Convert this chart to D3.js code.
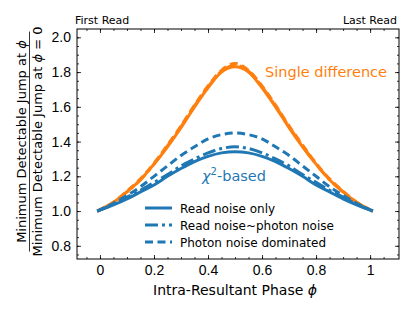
<!DOCTYPE html>
<html>
<head>
<meta charset="utf-8">
<script src="https://cdn.jsdelivr.net/npm/d3@7"></script>
<style>
  body { margin: 0; background: #fff; }
  svg { font-family: "DejaVu Sans", sans-serif; }
</style>
</head>
<body>
<div id="chart"></div>
<script>
// phase values
var phase = [-0.01, 0.05, 0.10, 0.15, 0.20, 0.25, 0.30, 0.35, 0.40, 0.45, 0.50,
             0.55, 0.60, 0.65, 0.70, 0.75, 0.80, 0.85, 0.90, 0.95, 1.01];

// single difference curves (orange)
var sdReadOnly  = [1.00, 1.05, 1.11, 1.18, 1.27, 1.37, 1.48, 1.60, 1.71, 1.80, 1.83,
                   1.80, 1.71, 1.60, 1.48, 1.37, 1.27, 1.18, 1.11, 1.05, 1.00];
var sdMixed     = [1.00, 1.05, 1.11, 1.18, 1.27, 1.375, 1.485, 1.605, 1.715, 1.805, 1.84,
                   1.805, 1.715, 1.605, 1.485, 1.375, 1.27, 1.18, 1.11, 1.05, 1.00];
var sdPhoton    = [1.00, 1.05, 1.115, 1.185, 1.275, 1.38, 1.49, 1.61, 1.72, 1.81, 1.85,
                   1.81, 1.72, 1.61, 1.49, 1.38, 1.275, 1.185, 1.115, 1.05, 1.00];

// chi2-based curves (blue)
var chiReadOnly = [1.00, 1.035, 1.07, 1.11, 1.15, 1.20, 1.245, 1.285, 1.315, 1.335, 1.342,
                   1.335, 1.315, 1.285, 1.245, 1.20, 1.15, 1.11, 1.07, 1.035, 1.00];
var chiMixed    = [1.00, 1.04, 1.08, 1.12, 1.165, 1.21, 1.26, 1.30, 1.335, 1.36, 1.37,
                   1.36, 1.335, 1.30, 1.26, 1.21, 1.165, 1.12, 1.08, 1.04, 1.00];
var chiPhoton   = [1.00, 1.045, 1.09, 1.14, 1.20, 1.26, 1.32, 1.37, 1.415, 1.44, 1.45,
                   1.44, 1.415, 1.37, 1.32, 1.26, 1.20, 1.14, 1.09, 1.045, 1.00];

// ticks
var xTicks = [0, 0.2, 0.4, 0.6, 0.8, 1];
var xTickLabels = ["0", "0.2", "0.4", "0.6", "0.8", "1"];
var yTicks = [0.8, 1.0, 1.2, 1.4, 1.6, 1.8, 2.0];
var legendLabels = ["Read noise only", "Read noise~photon noise", "Photon noise dominated"];

var svgWidth = 415, svgHeight = 311;
var margin = { top: 29, bottom: 52, left: 77, right: 16 };
var width = svgWidth - margin.left - margin.right;
var height = svgHeight - margin.top - margin.bottom;

var orange = "#ff7f0e", blue = "#1f77b4";
var dashStyles = [null, "13,4,3,4", "8,4.5"];

var svg = d3.select("#chart").append("svg")
    .attr("width", svgWidth)
    .attr("height", svgHeight);

var g = svg.append("g")
    .attr("transform", `translate(${margin.left}, ${margin.top})`);

var x = d3.scaleLinear().domain([-0.085, 1.107]).range([0, width]);
var y = d3.scaleLinear().domain([0.724, 2.048]).range([height, 0]);

// minor ticks
var xMinor = d3.range(-0.05, 1.0751, 0.05);
var yMinor = d3.range(0.75, 2.0251, 0.05);

function styleAxis(sel) {
    sel.select(".domain").remove();
    sel.selectAll("line").attr("stroke", "#000").attr("stroke-width", 0.8);
    sel.selectAll("text").attr("fill", "#000");
}

// minor ticks on all sides
g.append("g").attr("transform", `translate(0, ${height})`)
    .call(d3.axisBottom(x).tickValues(xMinor).tickSize(-2).tickFormat("")).call(styleAxis);
g.append("g")
    .call(d3.axisTop(x).tickValues(xMinor).tickSize(-2).tickFormat("")).call(styleAxis);
g.append("g")
    .call(d3.axisLeft(y).tickValues(yMinor).tickSize(-2).tickFormat("")).call(styleAxis);
g.append("g").attr("transform", `translate(${width}, 0)`)
    .call(d3.axisRight(y).tickValues(yMinor).tickSize(-2).tickFormat("")).call(styleAxis);

// major ticks
g.append("g").attr("transform", `translate(0, ${height})`)
    .call(d3.axisBottom(x).tickValues(xTicks).tickSize(-4).tickPadding(6)
        .tickFormat((d, i) => xTickLabels[i]))
    .call(styleAxis)
    .selectAll("text").attr("font-size", "14px");
g.append("g")
    .call(d3.axisTop(x).tickValues(xTicks).tickSize(-4).tickFormat("")).call(styleAxis);
g.append("g")
    .call(d3.axisLeft(y).tickValues(yTicks).tickSize(-4).tickPadding(6)
        .tickFormat(d3.format(".1f")))
    .call(styleAxis)
    .selectAll("text").attr("font-size", "14px");
g.append("g").attr("transform", `translate(${width}, 0)`)
    .call(d3.axisRight(y).tickValues(yTicks).tickSize(-4).tickFormat("")).call(styleAxis);

// lines
var line = d3.line()
    .x((d, i) => x(phase[i]))
    .y(d => y(d))
    .curve(d3.curveMonotoneX);

var series = [
    { values: sdReadOnly, color: orange, dash: 0 },
    { values: sdMixed, color: orange, dash: 1 },
    { values: sdPhoton, color: orange, dash: 2 },
    { values: chiReadOnly, color: blue, dash: 0 },
    { values: chiMixed, color: blue, dash: 1 },
    { values: chiPhoton, color: blue, dash: 2 }
];

g.selectAll(".curve")
    .data(series)
    .enter()
    .append("path")
    .attr("class", "curve")
    .attr("d", d => line(d.values))
    .attr("fill", "none")
    .attr("stroke", d => d.color)
    .attr("stroke-width", 3)
    .attr("stroke-dasharray", d => dashStyles[d.dash]);

// frame
g.append("rect")
    .attr("width", width)
    .attr("height", height)
    .attr("fill", "none")
    .attr("stroke", "#000")
    .attr("stroke-width", 1);

// annotations
svg.append("text")
    .attr("x", 265).attr("y", 77)
    .attr("fill", orange)
    .attr("font-size", "14.5px")
    .text("Single difference");

var chi = svg.append("text")
    .attr("x", 202).attr("y", 181)
    .attr("fill", blue)
    .attr("font-size", "14.5px");
chi.append("tspan").attr("font-style", "italic").text("χ");
chi.append("tspan").attr("dy", -6).attr("font-size", "10px").text("2");
chi.append("tspan").attr("dy", 6).text("-based");

// legend
var legend = svg.append("g").attr("transform", "translate(145, 208)");
legendLabels.forEach(function(label, i) {
    var row = legend.append("g").attr("transform", `translate(0, ${i * 17})`);
    row.append("line")
        .attr("x1", 0).attr("x2", 27)
        .attr("stroke", blue)
        .attr("stroke-width", 3)
        .attr("stroke-dasharray", dashStyles[i]);
    row.append("text")
        .attr("x", 35).attr("y", 4.5)
        .attr("font-size", "12px")
        .text(label);
});

// top labels
svg.append("text")
    .attr("x", 75).attr("y", 24)
    .attr("font-size", "11px")
    .text("First Read");
svg.append("text")
    .attr("x", 397).attr("y", 24)
    .attr("text-anchor", "end")
    .attr("font-size", "11px")
    .text("Last Read");

// x label
svg.append("text")
    .attr("x", margin.left + x(0.5)).attr("y", 295)
    .attr("text-anchor", "middle")
    .attr("font-size", "14px")
    .html("Intra-Resultant Phase <tspan font-style='italic'>ϕ</tspan>");

// y label as a fraction
var yl = svg.append("g").attr("transform", `translate(0, ${margin.top + y(1.4)}) rotate(-90)`);
yl.append("text")
    .attr("x", 0).attr("y", 26)
    .attr("text-anchor", "middle")
    .attr("font-size", "13px")
    .html("Minimum Detectable Jump at <tspan font-style='italic'>ϕ</tspan>");
yl.append("line")
    .attr("x1", -110).attr("x2", 110)
    .attr("y1", 29.5).attr("y2", 29.5)
    .attr("stroke", "#000")
    .attr("stroke-width", 0.8);
yl.append("text")
    .attr("x", 0).attr("y", 42)
    .attr("text-anchor", "middle")
    .attr("font-size", "13px")
    .html("Minimum Detectable Jump at <tspan font-style='italic'>ϕ</tspan> = 0");
</script>
</body>
</html>
